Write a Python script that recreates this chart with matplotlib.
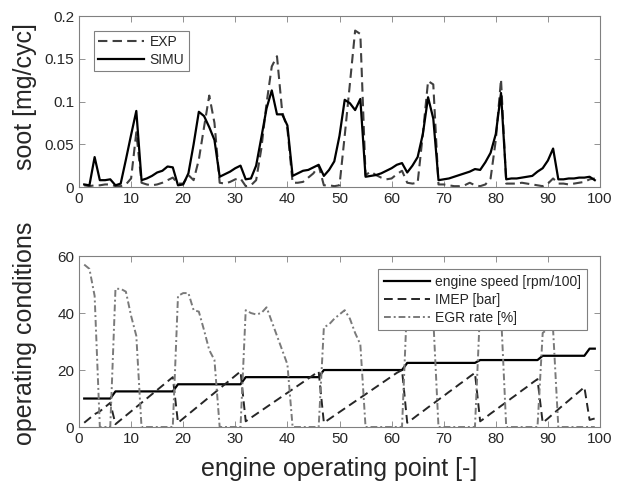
import matplotlib
matplotlib.use("Agg")
import matplotlib.pyplot as plt

plt.rcParams["font.family"] = ["Liberation Sans", "DejaVu Sans"]

# operating points
op_point = list(range(1, 100))

# soot [mg/cyc]
soot_exp = [
    0.002, 0.001, 0.002, 0.002, 0.003, 0.003, 0.001, 0.001, 0.003, 0.010,
    0.064, 0.005, 0.003, 0.002, 0.003, 0.005, 0.008, 0.011, 0.004, 0.004,
    0.014, 0.008, 0.032, 0.070, 0.107, 0.075, 0.005, 0.004, 0.006, 0.009,
    0.010, 0.001, 0.002, 0.008, 0.045, 0.098, 0.141, 0.153, 0.088, 0.068,
    0.005, 0.005, 0.006, 0.011, 0.016, 0.025, 0.002, 0.002, 0.001, 0.002,
    0.060, 0.121, 0.183, 0.179, 0.014, 0.018, 0.014, 0.011, 0.009, 0.010,
    0.015, 0.019, 0.005, 0.004, 0.005, 0.062, 0.124, 0.120, 0.003, 0.003,
    0.002, 0.001, 0.001, 0.002, 0.005, 0.002, 0.001, 0.003, 0.010, 0.055,
    0.126, 0.004, 0.004, 0.004, 0.005, 0.004, 0.003, 0.002, 0.001, 0.004,
    0.010, 0.004, 0.004, 0.003, 0.004, 0.005, 0.006, 0.009, 0.010,
]
soot_simu = [
    0.003, 0.002, 0.035, 0.008, 0.008, 0.009, 0.002, 0.004, 0.032, 0.061,
    0.089, 0.008, 0.010, 0.013, 0.017, 0.019, 0.024, 0.023, 0.002, 0.003,
    0.016, 0.050, 0.088, 0.083, 0.070, 0.055, 0.012, 0.015, 0.018, 0.022,
    0.025, 0.009, 0.010, 0.025, 0.058, 0.092, 0.113, 0.085, 0.085, 0.072,
    0.013, 0.016, 0.019, 0.020, 0.023, 0.026, 0.013, 0.020, 0.030, 0.060,
    0.102, 0.098, 0.090, 0.103, 0.012, 0.013, 0.014, 0.016, 0.019, 0.022,
    0.026, 0.028, 0.017, 0.025, 0.035, 0.062, 0.105, 0.080, 0.008, 0.009,
    0.010, 0.012, 0.014, 0.016, 0.018, 0.021, 0.020, 0.029, 0.040, 0.062,
    0.110, 0.009, 0.010, 0.010, 0.011, 0.012, 0.013, 0.018, 0.022, 0.031,
    0.045, 0.009, 0.009, 0.010, 0.010, 0.011, 0.011, 0.012, 0.008,
]

# operating conditions
engine_speed = (
    [10.0] * 6 + [12.5] * 12 + [15.0] * 13 + [17.5] * 15 + [20.0] * 16
    + [22.5] * 14 + [23.5] * 12 + [25.0] * 9 + [27.5] * 2
)
imep = [
    1.5, 3.0, 4.5, 5.5, 7.0, 8.5,
    1.0, 2.5, 4.0, 5.5, 7.0, 8.5, 10.0, 11.5, 13.0, 14.5, 16.0, 17.5,
    1.5, 3.0, 4.5, 6.0, 7.5, 9.0, 10.5, 12.0, 13.5, 15.0, 16.5, 18.0, 19.5,
    2.0, 3.25, 4.5, 5.75, 7.0, 8.25, 9.5, 10.75, 12.0, 13.25, 14.5, 15.75,
    17.0, 18.25, 19.5,
    1.5, 2.75, 4.0, 5.25, 6.5, 7.75, 9.0, 10.25, 11.5, 12.75, 14.0, 15.25,
    16.5, 17.75, 19.0, 20.0,
    1.5, 2.8, 4.2, 5.5, 6.9, 8.2, 9.6, 10.9, 12.3, 13.6, 15.0, 16.3, 17.7, 19.0,
    2.0, 3.3, 4.7, 6.0, 7.4, 8.7, 10.1, 11.4, 12.8, 14.1, 15.5, 16.8,
    1.5, 3.0, 4.6, 6.2, 7.8, 9.3, 10.9, 12.4, 14.0,
    2.5, 3.0,
]
egr_rate = [
    57.0, 55.5, 46.0, 0, 0, 0,
    48.5, 48.5, 47.5, 39.0, 32.0, 0, 0, 0, 0, 0, 0, 0,
    46.0, 47.0, 47.0, 41.0, 40.5, 34.0, 27.0, 23.5, 0, 0, 0, 0, 0,
    41.0, 40.0, 39.5, 40.0, 42.0, 37.0, 32.0, 27.0, 22.0, 0, 0, 0, 0, 0, 0,
    35.0, 36.0, 38.0, 39.5, 41.0, 38.0, 33.0, 29.0, 0, 0, 0, 0, 0, 0, 0, 0,
    45.0, 47.0, 48.0, 47.0, 44.0, 38.0, 0, 0, 0, 0, 0, 0, 0, 0,
    42.0, 45.0, 46.0, 44.0, 40.0, 0, 0, 0, 0, 0, 0, 0,
    33.0, 34.5, 34.0, 0, 0, 0, 0, 0, 0,
    0, 0,
]

TXT = "#262626"
EDGE = "#808080"

fig = plt.figure(figsize=(6.25, 4.83), dpi=100)
ax1 = fig.add_axes([0.1264, 0.6128, 0.8336, 0.354])
ax2 = fig.add_axes([0.1264, 0.1159, 0.8336, 0.354])

ax1.plot(op_point, soot_exp, color="#404040", ls="--", lw=1.5, dashes=(4.5, 2.5), label="EXP")
ax1.plot(op_point, soot_simu, color="black", lw=1.6, label="SIMU")
ax1.set_xlim(0, 100)
ax1.set_ylim(0, 0.2)
ax1.set_yticks([0, 0.05, 0.1, 0.15, 0.2])
ax1.set_yticklabels(["0", "0.05", "0.1", "0.15", "0.2"])
ax1.set_ylabel("soot [mg/cyc]", fontsize=18, color=TXT)
ax1.yaxis.set_label_coords(-0.08, 0.53)
leg1 = ax1.legend(loc="upper left", bbox_to_anchor=(0.029, 0.914), borderaxespad=0,
                  fontsize=10, fancybox=False, handlelength=3.3, labelspacing=0.3,
                  handletextpad=0.4, borderpad=0.3, framealpha=1)

ax2.plot(op_point, engine_speed, color="black", lw=1.6, label="engine speed [rpm/100]")
ax2.plot(op_point, imep, color="#262626", ls="--", lw=1.4, dashes=(4.5, 2.5), label="IMEP [bar]")
ax2.plot(op_point, egr_rate, color="#7a7a7a", lw=1.4, dashes=(3.5, 1.5, 1.0, 1.5),
         label="EGR rate [%]")
ax2.set_xlim(0, 100)
ax2.set_ylim(0, 60)
ax2.set_yticks([0, 20, 40, 60])
ax2.set_ylabel("operating conditions", fontsize=18, color=TXT)
ax2.yaxis.set_label_coords(-0.08, 0.55)
ax2.set_xlabel("engine operating point [-]", fontsize=18, color=TXT, labelpad=8)
leg2 = ax2.legend(loc="upper right", bbox_to_anchor=(0.975, 0.924), borderaxespad=0,
                  fontsize=10, fancybox=False, handlelength=3.3, labelspacing=0.3,
                  handletextpad=0.4, framealpha=1)

for ax, leg in ((ax1, leg1), (ax2, leg2)):
    ax.set_xticks(range(0, 101, 10))
    ax.tick_params(direction="in", top=True, right=True, length=4, width=0.6,
                   colors=EDGE, labelcolor=TXT, labelsize=11)
    for sp in ax.spines.values():
        sp.set_color(EDGE)
        sp.set_linewidth(0.8)
    frame = leg.get_frame()
    frame.set_edgecolor(EDGE)
    frame.set_linewidth(0.8)
    for t in leg.get_texts():
        t.set_color(TXT)

fig.savefig("out.png", dpi=100)
